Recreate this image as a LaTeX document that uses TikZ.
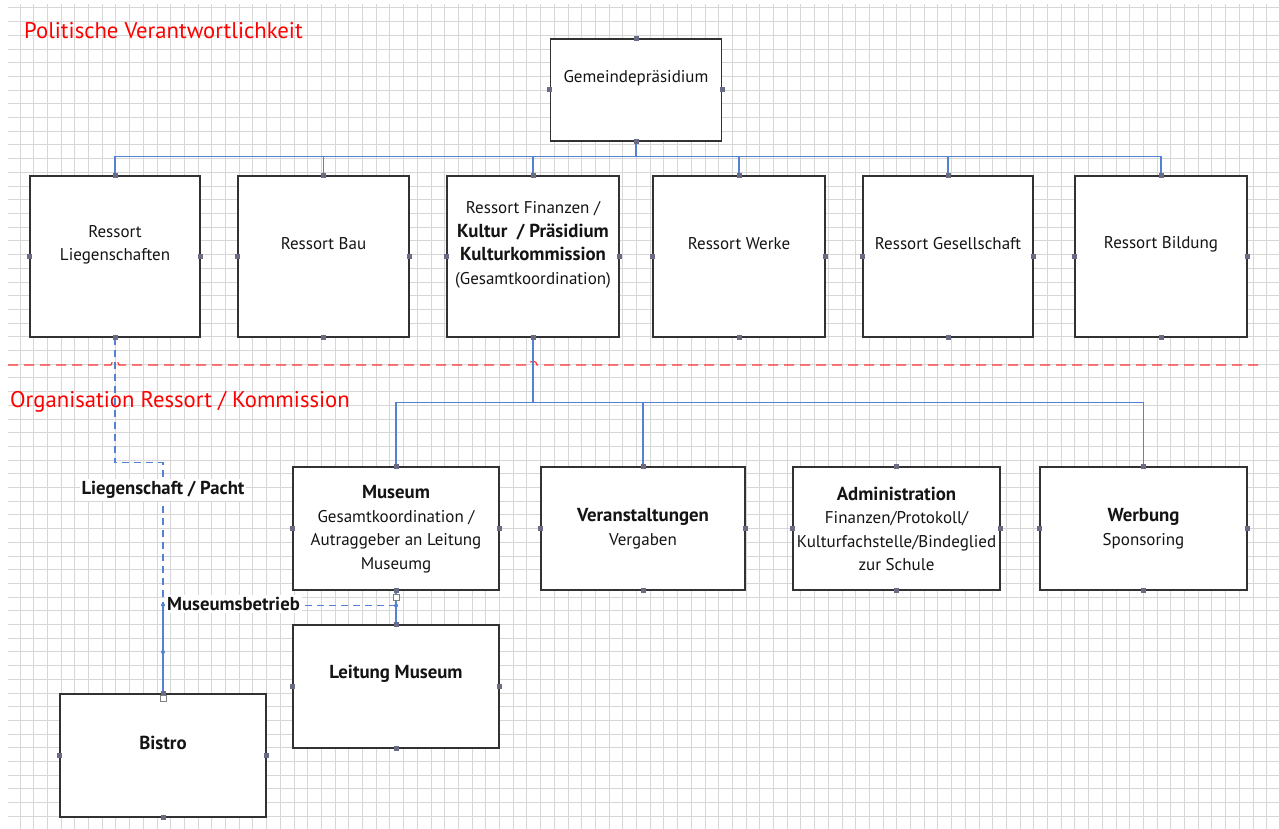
\documentclass[tikz,border=0pt]{standalone}
\usepackage{fontspec}
\setmainfont{PT Sans}
\usetikzlibrary{calc}
\definecolor{gridc}{RGB}{215,215,215}
\definecolor{boxc}{RGB}{50,50,50}
\definecolor{dotc}{RGB}{105,108,130}
\definecolor{connc}{RGB}{84,130,210}
\definecolor{txt}{RGB}{20,20,20}
\newcommand{\bt}[1]{{\fontsize{18.8}{23.5}\selectfont\bfseries #1}}
\tikzset{
  gridline/.style={draw=gridc, line width=1pt},
  box/.style={draw=boxc, fill=white, line width=1.3pt, inner sep=0pt},
  boxtext/.style={align=center, text=txt, font=\fontsize{17}{23.5}\selectfont, inner sep=0pt},
  dot/.style={fill=dotc, minimum size=5pt, inner sep=0pt, draw=none},
  handle/.style={fill=white, draw=gray, line width=0.6pt, minimum size=6pt, inner sep=0pt},
  bdot/.style={fill=connc, circle, minimum size=4pt, inner sep=0pt},
  conn/.style={draw=connc, line width=1.5pt},
  conndash/.style={draw=connc, line width=1.5pt, dash pattern=on 7pt off 5pt},
  sep/.style={draw=red!80!white, line width=1.2pt, dash pattern=on 10pt off 6pt},
  redtitle/.style={text=red, font=\fontsize{22.7}{26}\selectfont, inner sep=0pt, anchor=west},
  clabel/.style={fill=white, text=txt, font=\fontsize{18.7}{21}\selectfont\bfseries, inner sep=2pt}
}
\begin{document}
\begin{tikzpicture}[x=1pt,y=-1pt]
\useasboundingbox (0,0) rectangle (1279,829);
% grid
\foreach \i in {0,...,91} {\draw[gridline] ({20+13.7*\i},4) -- ({20+13.7*\i},829);}
\foreach \j in {0,...,59} {\draw[gridline] (8,{8+13.7*\j}) -- (1279,{8+13.7*\j});}

% titles
\node[redtitle] (t1) at (24,31) {Politische Verantwortlichkeit};
\node[redtitle] (t2) at (10,402) {Organisation Ressort / Kommission};

% boxes
\node[box, minimum width=171pt, minimum height=102pt] (gp) at (636,90) {};
\node[box, minimum width=170pt, minimum height=161pt] (r1) at (115,256.5) {};
\node[box, minimum width=171pt, minimum height=161pt] (r2) at (323.5,256.5) {};
\node[box, minimum width=172pt, minimum height=161pt] (r3) at (533,256.5) {};
\node[box, minimum width=172pt, minimum height=161pt] (r4) at (739,256.5) {};
\node[box, minimum width=170pt, minimum height=161pt] (r5) at (948,256.5) {};
\node[box, minimum width=172pt, minimum height=161pt] (r6) at (1161,256.5) {};
\node[box, minimum width=206pt, minimum height=123pt] (mus) at (396,528.5) {};
\node[box, minimum width=204pt, minimum height=123pt] (ver) at (643,528.5) {};
\node[box, minimum width=207pt, minimum height=123pt] (adm) at (896.5,528.5) {};
\node[box, minimum width=207pt, minimum height=123pt] (wer) at (1143.5,528.5) {};
\node[box, minimum width=206pt, minimum height=123pt] (lm) at (396,686.5) {};
\node[box, minimum width=206pt, minimum height=123pt] (bis) at (163,755.5) {};

% texts
\node[boxtext] (gp-t) at (636,78) {Gemeindepräsidium};
\node[boxtext] (r1-t) at (115,245) {Ressort\\Liegenschaften};
\node[boxtext] (r2-t) at (323.5,244) {Ressort Bau};
\node[boxtext] (r3-t) at (533,245) {Ressort Finanzen /\\\bt{Kultur~ / Präsidium}\\\bt{Kulturkommission}\\(Gesamtkoordination)};
\node[boxtext] (r4-t) at (739,244) {Ressort Werke};
\node[boxtext] (r5-t) at (948,244) {Ressort Gesellschaft};
\node[boxtext] (r6-t) at (1161,244) {Ressort Bildung};
\node[boxtext] (mus-t) at (396,529) {\bt{Museum}\\Gesamtkoordination /\\Autraggeber an Leitung\\Museumg};
\node[boxtext] (ver-t) at (643,528.5) {\bt{Veranstaltungen}\\Vergaben};
\node[boxtext] (adm-t) at (896.5,529) {\bt{Administration}\\Finanzen/Protokoll/\\Kulturfachstelle/Bindeglied\\zur Schule};
\node[boxtext] (wer-t) at (1143.5,528.5) {\bt{Werbung}\\Sponsoring};
\node[boxtext] (lm-t) at (396,674) {\bt{Leitung Museum}};
\node[boxtext] (bis-t) at (163,743) {\bt{Bistro}};

% separator with hops
\draw[sep] (8,365) -- (111,365) .. controls (111,360) and (119,360) .. (119,365)
  -- (529,365) .. controls (529,360) and (537,360) .. (537,365) -- (1262,365);

% connectors level 1
\foreach \r in {r1,r2,r3,r4,r5,r6} {\draw[conn] (gp.south) -- ++(0,15) -| (\r.north);}
% connectors level 2
\foreach \r in {mus,ver,wer} {\draw[conn] (r3.south) -- ++(0,65) -| (\r.north);}
\draw[conn] (mus.south) -- (lm.north);

% Liegenschaft / Pacht
\draw[conndash] (r1.south) -- ++(0,125) -| (bis.north);
\coordinate (mbj) at ($(mus.south)+(0,15)$);
\draw[conndash] (mbj) -| (bis.north);
\draw[conn] (bis.north) -- ++(0,-89);
\node[clabel] (lp) at (163,490) {Liegenschaft / Pacht};
\node[clabel, anchor=west] (mb) at (165,604) {Museumsbetrieb};

% anchor dots
\foreach \n in {gp,r1,r2,r3,r4,r5,r6,mus,ver,adm,wer,lm,bis} {
  \foreach \a in {north,south,east,west} {\node[dot] (\n-\a) at (\n.\a) {};}
}
\node[handle] (h1) at ($(mus.south)+(0,7)$) {};
\node[handle] (h2) at ($(bis.north)+(0,5)$) {};
\node[bdot] (b1) at (mbj) {};
\node[bdot] (b2) at (163,605) {};
\node[bdot] (b3) at (163,652) {};
\end{tikzpicture}
\end{document}
